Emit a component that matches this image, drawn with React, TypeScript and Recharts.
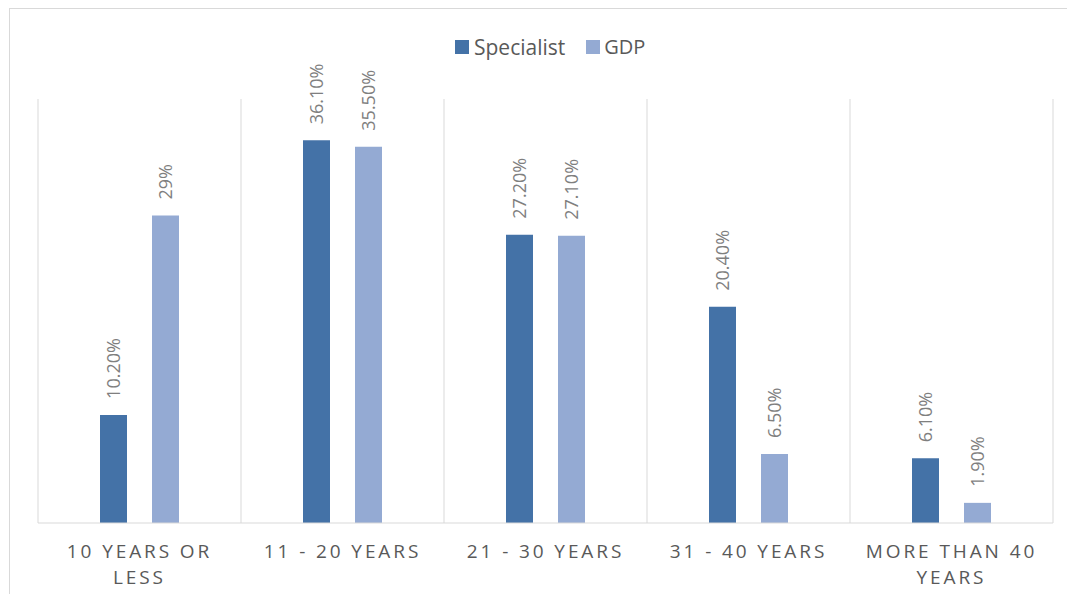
import React from 'react';
import { BarChart, Bar, XAxis, YAxis, CartesianGrid, Legend, LabelList } from 'recharts';

const categories = ['10 YEARS OR LESS', '11 - 20 YEARS', '21 - 30 YEARS', '31 - 40 YEARS', 'MORE THAN 40 YEARS'];
const specialistValues = [10.2, 36.1, 27.2, 20.4, 6.1];
const gdpValues = [29, 35.5, 27.1, 6.5, 1.9];
const specialistLabels = ['10.20%', '36.10%', '27.20%', '20.40%', '6.10%'];
const gdpLabels = ['29%', '35.50%', '27.10%', '6.50%', '1.90%'];

const SPEC_COLOR = '#4472A7';
const GDP_COLOR = '#94AAD3';
const FONT = '"Open Sans", "Noto Sans", sans-serif';

const data = categories.map((name, i) => ({
  name,
  specialist: specialistValues[i],
  gdp: gdpValues[i],
  sLabel: specialistLabels[i],
  gLabel: gdpLabels[i],
}));

function wrap(text: string, max: number): string[] {
  const words = text.split(' ');
  const lines: string[] = [];
  let cur = '';
  for (const w of words) {
    const next = cur ? cur + ' ' + w : w;
    if (next.length > max && cur) {
      lines.push(cur);
      cur = w;
    } else {
      cur = next;
    }
  }
  if (cur) lines.push(cur);
  return lines;
}

const AxisTick = (props: any) => {
  const { x, y, payload } = props;
  const lines = wrap(String(payload.value), 13);
  return (
    <text x={x} y={y} textAnchor="middle" fill="#595959" fontSize={19} fontFamily={FONT} letterSpacing={2.9}>
      {lines.map((l, i) => (
        <tspan key={i} x={x} y={Number(y) + 35 + i * 26}>
          {l}
        </tspan>
      ))}
    </text>
  );
};

const BarLabel = (props: any) => {
  const { x, y, width, value } = props;
  const cx = Number(x) + Number(width) / 2;
  const cy = Number(y) - 16;
  return (
    <text
      x={cx}
      y={cy}
      transform={`rotate(-90 ${cx} ${cy})`}
      textAnchor="start"
      dominantBaseline="central"
      fill="#7F7F7F"
      fontSize={18}
      fontFamily={FONT}
    >
      {value}
    </text>
  );
};

const LegendContent = () => (
  <div style={{ display: 'flex', alignItems: 'center', height: 24, fontFamily: FONT, fontSize: 21, color: '#595959' }}>
    <span style={{ width: 14, height: 14, background: SPEC_COLOR, display: 'inline-block', marginRight: 5 }} />
    <span style={{ marginRight: 21, lineHeight: '24px' }}>Specialist</span>
    <span style={{ width: 14, height: 14, background: GDP_COLOR, display: 'inline-block', marginRight: 4 }} />
    <span style={{ lineHeight: '24px', fontSize: 20 }}>GDP</span>
  </div>
);

export default function App() {
  return (
    <div
      style={{
        marginLeft: 1,
        width: 1058,
        height: 586,
        boxSizing: 'border-box',
        borderTop: '1px solid #d9d9d9',
        borderLeft: '1px solid #d9d9d9',
        background: '#fff',
      }}
    >
      <BarChart
        width={1057}
        height={585}
        data={data}
        margin={{ top: 66, right: 14, bottom: 5, left: 28 }}
        barSize={27}
        barGap={25}
      >
        <CartesianGrid
          horizontal={false}
          vertical={true}
          stroke="#d9d9d9"
          verticalCoordinatesGenerator={({ offset }: any) =>
            [0, 1, 2, 3, 4, 5].map((i) => offset.left + (i * offset.width) / categories.length)
          }
        />
        <XAxis
          dataKey="name"
          interval={0}
          height={66}
          tickLine={false}
          tickSize={0}
          tickMargin={0}
          axisLine={{ stroke: '#d9d9d9', strokeWidth: 1 }}
          tick={<AxisTick />}
        />
        <YAxis hide domain={[0, 40]} />
        <Legend
          verticalAlign="top"
          align="center"
          content={<LegendContent />}
          wrapperStyle={{ left: 445, top: 26, width: 260, height: 24 }}
        />
        <Bar dataKey="specialist" fill={SPEC_COLOR} isAnimationActive={false}>
          <LabelList dataKey="sLabel" content={<BarLabel />} />
        </Bar>
        <Bar dataKey="gdp" fill={GDP_COLOR} isAnimationActive={false}>
          <LabelList dataKey="gLabel" content={<BarLabel />} />
        </Bar>
      </BarChart>
    </div>
  );
}
